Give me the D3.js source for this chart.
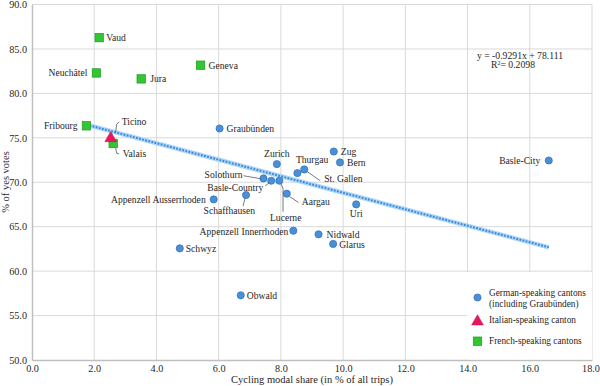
<!DOCTYPE html>
<html>
<head>
<meta charset="utf-8">
<script src="https://cdn.jsdelivr.net/npm/d3@7"></script>
<style>
  body { margin: 0; background: #fff; }
</style>
</head>
<body>
<svg id="chart" width="600" height="386"></svg>
<script>
// data
const germanNames = ["Graubünden", "Zurich", "Solothurn", "Basle-Country", "Lucerne", "Aargau",
  "Thurgau", "St. Gallen", "Zug", "Bern", "Uri", "Appenzell Innerrhoden", "Nidwald", "Glarus",
  "Appenzell Ausserrhoden", "Schaffhausen", "Schwyz", "Obwald", "Basle-City"];
const germanShare = [6.03, 7.87, 7.44, 7.69, 7.95, 8.19, 8.53, 8.75, 9.70, 9.90, 10.42, 8.40, 9.21, 9.68, 5.84, 6.88, 4.75, 6.71, 16.61];
const germanYes = [76.05, 72.04, 70.43, 70.17, 70.17, 68.71, 71.03, 71.44, 73.46, 72.23, 67.51, 64.55, 64.14, 63.06, 68.07, 68.56, 62.56, 57.28, 72.45];

const italianNames = ["Ticino"];
const italianShare = [2.53];
const italianYes = [74.95];

const frenchNames = ["Vaud", "Neuchâtel", "Jura", "Geneva", "Fribourg", "Valais"];
const frenchShare = [2.16, 2.07, 3.51, 5.42, 1.75, 2.61];
const frenchYes = [86.27, 82.3, 81.63, 83.17, 76.35, 74.36];

const slope = -0.9291;
const intercept = 78.111;
const r2 = 0.2098;

const xTicks = [0, 2, 4, 6, 8, 10, 12, 14, 16, 18];
const yTicks = [50, 55, 60, 65, 70, 75, 80, 85, 90];

const FONT = "'Liberation Serif', 'Times New Roman', serif";

// label placement (pixel offsets from the marker)
const labelLayout = {
  "Vaud": {dx: 7, dy: 0, a: "start"},
  "Neuchâtel": {dx: -9, dy: 0, a: "end"},
  "Jura": {dx: 9, dy: 0, a: "start"},
  "Geneva": {dx: 8, dy: 0, a: "start"},
  "Fribourg": {dx: -9, dy: 0, a: "end"},
  "Valais": {dx: 9.5, dy: 10, a: "start", leader: [[2.5, 4.7], [3.5, 9.7], [6, 10.4]]},
  "Ticino": {dx: 11, dy: -16.5, a: "start", leader: [[5, -6], [6, -14.3], [8.5, -16.3]]},
  "Graubünden": {dx: 7, dy: 0, a: "start"},
  "Zurich": {dx: 0, dy: -10, a: "middle"},
  "Solothurn": {dx: -21, dy: -4, a: "end", leader: [[-20, -2.7], [-3, 0.3]]},
  "Basle-Country": {dx: -8, dy: 7, a: "end", leader: [[-6, 5], [-2, 2]]},
  "Lucerne": {dx: 6.4, dy: 36.7, a: "middle", leader: [[1.7, 3], [3.7, 8], [3.7, 31]]},
  "Aargau": {dx: 15, dy: 7.7, a: "start", leader: [[3, 3], [11.6, 8.7]]},
  "Thurgau": {dx: 14.7, dy: -13.3, a: "middle"},
  "St. Gallen": {dx: 20, dy: 9, a: "start", leader: [[2.7, 2], [16, 11.3]]},
  "Zug": {dx: 7, dy: 0, a: "start"},
  "Bern": {dx: 7, dy: 0, a: "start"},
  "Uri": {dx: 0, dy: 9.5, a: "middle"},
  "Appenzell Innerrhoden": {dx: -5, dy: 1, a: "end"},
  "Nidwald": {dx: 8, dy: 0, a: "start"},
  "Glarus": {dx: 6, dy: 0.5, a: "start"},
  "Appenzell Ausserrhoden": {dx: -8, dy: 0, a: "end"},
  "Schaffhausen": {dx: -16.7, dy: 15.7, a: "middle", leader: [[-1, 3], [-3, 11]]},
  "Schwyz": {dx: 6, dy: 0, a: "start"},
  "Obwald": {dx: 6, dy: 0, a: "start"},
  "Basle-City": {dx: -8.5, dy: 0, a: "end"}
};

const svg = d3.select("#chart");
const x = d3.scaleLinear().domain([0, 18]).range([32, 592]);
const y = d3.scaleLinear().domain([50, 90]).range([360, 4.5]);

// grid
svg.append("g").selectAll("line").data(xTicks.slice(1)).join("line")
  .attr("x1", d => x(d)).attr("x2", d => x(d))
  .attr("y1", y(90)).attr("y2", y(50))
  .style("stroke", "#d9d9d9").style("stroke-width", 1);
svg.append("g").selectAll("line").data(yTicks.slice(1)).join("line")
  .attr("x1", x(0)).attr("x2", x(18))
  .attr("y1", d => y(d)).attr("y2", d => y(d))
  .style("stroke", "#d9d9d9").style("stroke-width", 1);

// axes
const xAxis = svg.append("g").attr("transform", `translate(0,${y(50)})`)
  .call(d3.axisBottom(x).tickValues(xTicks).tickFormat(d3.format(".1f")).tickSize(0).tickPadding(5));
const yAxis = svg.append("g").attr("transform", `translate(${x(0)},0)`)
  .call(d3.axisLeft(y).tickValues(yTicks).tickFormat(d3.format(".1f")).tickSize(0).tickPadding(5));
[xAxis, yAxis].forEach(g => {
  g.attr("font-family", FONT);
  g.select(".domain").style("stroke", "#bfbfbf").style("stroke-width", 1.5);
  g.selectAll("text").style("font-family", FONT).style("font-size", "10.2px").style("fill", "#262626");
});
// keep the last tick label inside the frame
xAxis.selectAll(".tick").filter(d => d === 18).select("text").attr("dx", "-1.5");

function txt(sel, size) {
  return sel.style("font-family", FONT).style("fill", "#262626").style("font-size", size + "px");
}

txt(svg.append("text"), 10.5)
  .attr("x", 312).attr("y", 383)
  .attr("text-anchor", "middle")
  .text("Cycling modal share (in % of all trips)");
txt(svg.append("text"), 10.5)
  .attr("transform", "translate(9,182) rotate(-90)")
  .attr("text-anchor", "middle")
  .text("% of yes votes");

// trend line
const allShare = germanShare.concat(italianShare, frenchShare);
const xr = d3.extent(allShare);
const trend = d3.line().x(d => x(d)).y(d => y(slope * d + intercept));
svg.append("path").datum(xr).attr("d", trend)
  .style("fill", "none").style("stroke", "#acd6f7").style("stroke-width", 4.5);
svg.append("path").datum(xr).attr("d", trend)
  .style("fill", "none").style("stroke", "#3d86d6").style("stroke-width", 2)
  .style("stroke-dasharray", "1.8,1.4");

txt(svg.append("text"), 9.7)
  .attr("x", 520).attr("y", 58.5)
  .attr("text-anchor", "middle")
  .text("y =  " + slope.toFixed(4) + "x  + " + intercept.toFixed(3));
txt(svg.append("text"), 9.7)
  .attr("x", 513).attr("y", 68)
  .attr("text-anchor", "middle")
  .html("R<tspan dy='-3' style='font-size:6px'>2</tspan><tspan dy='3'>= " + r2.toFixed(4) + "</tspan>");

// markers
function drawGroup(names, share, yes, type) {
  const pts = names.map((n, i) => ({name: n, x: share[i], y: yes[i]}));
  const g = svg.append("g");
  if (type === "circle") {
    g.selectAll("circle").data(pts).join("circle")
      .attr("cx", d => x(d.x)).attr("cy", d => y(d.y)).attr("r", 3.6)
      .style("fill", "#4a90d9").style("stroke", "#2f6fb5").style("stroke-width", 0.7);
  } else if (type === "square") {
    g.selectAll("rect").data(pts).join("rect")
      .attr("x", d => x(d.x) - 4.2).attr("y", d => y(d.y) - 4.2)
      .attr("width", 8.4).attr("height", 8.4)
      .style("fill", "#33c633").style("stroke", "#1e9a1e").style("stroke-width", 0.7);
  } else {
    g.selectAll("path").data(pts).join("path")
      .attr("d", d3.symbol(d3.symbolTriangle, 60))
      .attr("transform", d => `translate(${x(d.x)},${y(d.y)})`)
      .style("fill", "#e8175d").style("stroke", "#c0104a").style("stroke-width", 0.5);
  }
  return pts;
}

let points = [];
points = points.concat(drawGroup(germanNames, germanShare, germanYes, "circle"));
points = points.concat(drawGroup(frenchNames, frenchShare, frenchYes, "square"));
points = points.concat(drawGroup(italianNames, italianShare, italianYes, "triangle"));

// labels and leader lines
points.forEach(p => {
  const L = labelLayout[p.name];
  const px = x(p.x), py = y(p.y);
  if (L.leader) {
    svg.append("polyline")
      .attr("points", L.leader.map(q => (px + q[0]) + "," + (py + q[1])).join(" "))
      .style("fill", "none").style("stroke", "#595959").style("stroke-width", 0.8);
  }
  txt(svg.append("text"), 9.6)
    .attr("x", px + L.dx).attr("y", py + L.dy)
    .attr("dy", "0.35em")
    .attr("text-anchor", L.a)
    .text(p.name);
});

// legend
const leg = svg.append("g");
leg.append("rect").attr("x", 467).attr("y", 272).attr("width", 125).attr("height", 87.5)
  .style("fill", "#fff");
leg.append("circle").attr("cx", 477.5).attr("cy", 297.5).attr("r", 3.6)
  .style("fill", "#4a90d9").style("stroke", "#2f6fb5").style("stroke-width", 0.7);
leg.append("path").attr("d", d3.symbol(d3.symbolTriangle, 60))
  .attr("transform", "translate(477.5,321.5)")
  .style("fill", "#e8175d").style("stroke", "#c0104a").style("stroke-width", 0.5);
leg.append("rect").attr("x", 473.3).attr("y", 337).attr("width", 8.4).attr("height", 8.4)
  .style("fill", "#33c633").style("stroke", "#1e9a1e").style("stroke-width", 0.7);
const legText = [["German-speaking cantons", 293], ["(including Graubünden)", 304], ["Italian-speaking canton", 319.5], ["French-speaking cantons", 341]];
legText.forEach(t => {
  txt(leg.append("text"), 9.3).attr("x", 489).attr("y", t[1]).attr("dy", "0.35em")
    .text(t[0]);
});
</script>
</body>
</html>
